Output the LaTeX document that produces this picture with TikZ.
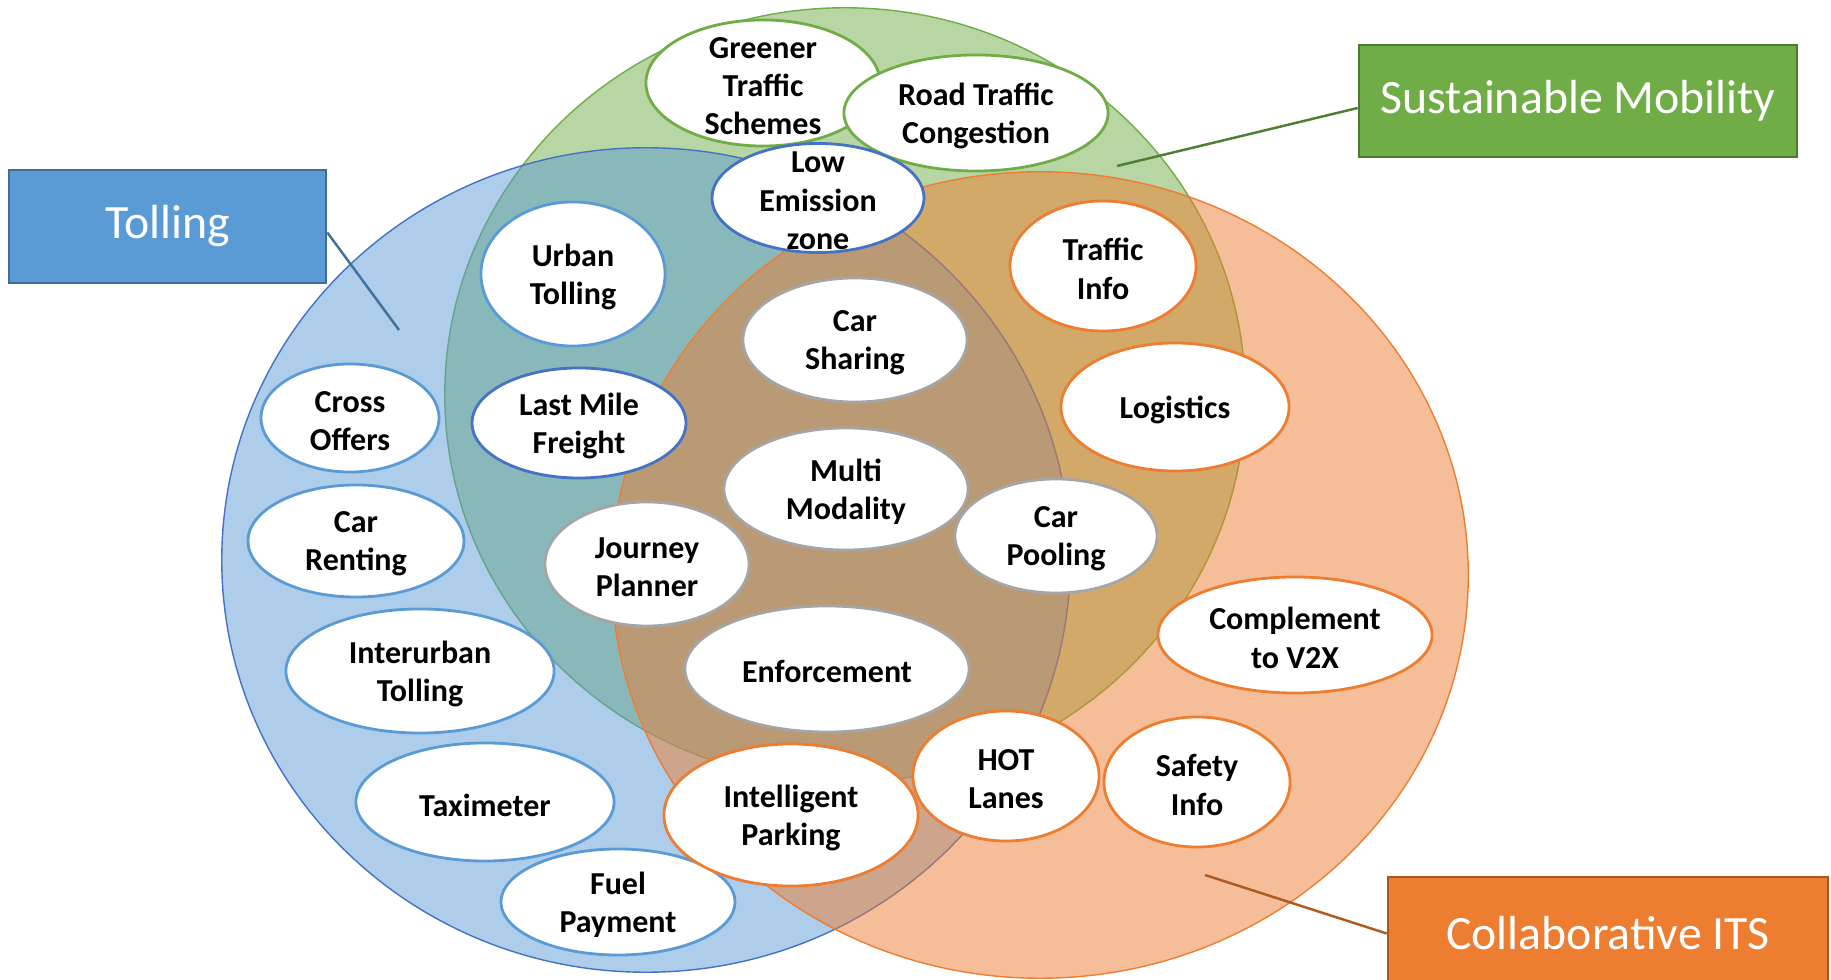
\documentclass[tikz,border=0pt]{standalone}
\usepackage{fontspec}
\setmainfont{Carlito}
\usetikzlibrary{shapes.geometric}
\definecolor{oblue}{HTML}{5B9BD5}
\definecolor{dblue}{HTML}{4472C4}
\definecolor{ogreen}{HTML}{70AD47}
\definecolor{oorange}{HTML}{ED7D31}
\definecolor{ogrey}{HTML}{A5A5A5}
\definecolor{bluebd}{HTML}{41719C}
\definecolor{greenbd}{HTML}{507E32}
\definecolor{orangebd}{HTML}{AE5A21}
\begin{document}
\begin{tikzpicture}[x=0.01cm,y=-0.01cm,
  big/.style={fill=#1,fill opacity=0.5,draw=#1,line width=0.4pt},
  bub/.style={ellipse,draw=#1,line width=0.8pt,fill=white,inner sep=0pt},
  txt/.style={align=center,inner sep=0pt,yshift=-0.03cm,font=\bfseries\fontsize{9.1}{10.9}\selectfont},
  lbl/.style={fill=#1,draw=#1!70!black,line width=0.7pt,text=white,inner sep=0pt,
    font=\fontsize{13.6}{16}\selectfont},
  con/.style={draw=#1,line width=0.7pt}]
\useasboundingbox (0,0) rectangle (1831,980);
% big circles
\path[big=ogreen] (845,395) ellipse [x radius=4cm, y radius=3.87cm];
\path[big=oblue,draw=dblue] (646,560) ellipse [x radius=4.24cm, y radius=4.12cm];
\path[big=oorange] (1040,575) ellipse [x radius=4.28cm, y radius=4.03cm];
% bubbles
\node[bub=ogreen,minimum width=2.34cm,minimum height=1.26cm] (gts) at (763,83) {};
\node[txt] (gts-t) at (gts) {Greener\\Traffic\\Schemes};
\node[bub=ogreen,minimum width=2.64cm,minimum height=1.16cm] (rtc) at (976,113) {};
\node[txt] (rtc-t) at (rtc) {Road Traffic\\Congestion};
\node[bub=dblue,minimum width=2.12cm,minimum height=1.09cm] (lez) at (818,198) {};
\node[txt] (lez-t) at (lez) {Low\\Emission\\zone};
\node[bub=oblue,minimum width=1.84cm,minimum height=1.44cm] (urb) at (573,274) {};
\node[txt] (urb-t) at (urb) {Urban\\Tolling};
\node[bub=oblue,minimum width=1.78cm,minimum height=1.08cm] (cro) at (350,418) {};
\node[txt] (cro-t) at (cro) {Cross\\Offers};
\node[bub=dblue,minimum width=2.14cm,minimum height=1.10cm] (lmf) at (579,423) {};
\node[txt] (lmf-t) at (lmf) {Last Mile\\Freight};
\node[bub=ogrey,minimum width=2.24cm,minimum height=1.24cm] (cas) at (855,340) {};
\node[txt] (cas-t) at (cas) {Car\\Sharing};
\node[bub=oorange,minimum width=1.86cm,minimum height=1.30cm] (tin) at (1103,266) {};
\node[txt] (tin-t) at (tin) {Traffic\\Info};
\node[bub=oorange,minimum width=2.28cm,minimum height=1.28cm] (log) at (1175,407) {};
\node[txt] (log-t) at (log) {Logistics};
\node[bub=oblue,minimum width=2.16cm,minimum height=1.12cm] (cre) at (356,541) {};
\node[txt] (cre-t) at (cre) {Car\\Renting};
\node[bub=oblue,minimum width=2.68cm,minimum height=1.24cm] (itt) at (420,671) {};
\node[txt] (itt-t) at (itt) {Interurban\\Tolling};
\node[bub=oblue,minimum width=2.58cm,minimum height=1.18cm] (tax) at (485,802) {};
\node[txt] (tax-t) at (tax) {Taximeter};
\node[bub=oblue,minimum width=2.34cm,minimum height=1.06cm] (fue) at (618,902) {};
\node[txt] (fue-t) at (fue) {Fuel\\Payment};
\node[bub=ogrey,minimum width=2.44cm,minimum height=1.22cm] (mmo) at (846,489) {};
\node[txt] (mmo-t) at (mmo) {Multi\\Modality};
\node[bub=ogrey,minimum width=2.04cm,minimum height=1.24cm] (jop) at (647,564) {};
\node[txt] (jop-t) at (jop) {Journey\\Planner};
\node[bub=ogrey,minimum width=2.02cm,minimum height=1.14cm] (cap) at (1056,536) {};
\node[txt] (cap-t) at (cap) {Car\\Pooling};
\node[bub=ogrey,minimum width=2.84cm,minimum height=1.26cm] (enf) at (827,669) {};
\node[txt] (enf-t) at (enf) {Enforcement};
\node[bub=oorange,minimum width=2.54cm,minimum height=1.42cm] (ipk) at (791,815) {};
\node[txt] (ipk-t) at (ipk) {Intelligent\\Parking};
\node[bub=oorange,minimum width=2.74cm,minimum height=1.16cm] (v2x) at (1295,635) {};
\node[txt] (v2x-t) at (v2x) {Complement\\to V2X};
\node[bub=oorange,minimum width=1.86cm,minimum height=1.30cm] (hot) at (1006,776) {};
\node[txt] (hot-t) at (hot) {HOT\\Lanes};
\node[bub=oorange,minimum width=1.86cm,minimum height=1.30cm] (sfi) at (1197,782) {};
\node[txt] (sfi-t) at (sfi) {Safety\\Info};
% label boxes
\node[lbl=oblue,minimum width=3.17cm,minimum height=1.13cm] (tol) at (167.5,226.5) {Tolling};
\node[lbl=ogreen,minimum width=4.38cm,minimum height=1.12cm] (sus) at (1578,101) {Sustainable Mobility};
\node[lbl=oorange,minimum width=4.40cm,minimum height=1.13cm] (cits) at (1608,933.5) {Collaborative ITS};
% connectors
\coordinate (tolpt) at (399,330);
\coordinate (suspt) at (1117,166);
\coordinate (citspt) at (1205,875);
\draw[con=bluebd] ([yshift=-0.06cm]tol.east) -- (tolpt);
\draw[con=greenbd] ([yshift=-0.07cm]sus.west) -- (suspt);
\draw[con=orangebd] (cits.west) -- (citspt);
\end{tikzpicture}
\end{document}
